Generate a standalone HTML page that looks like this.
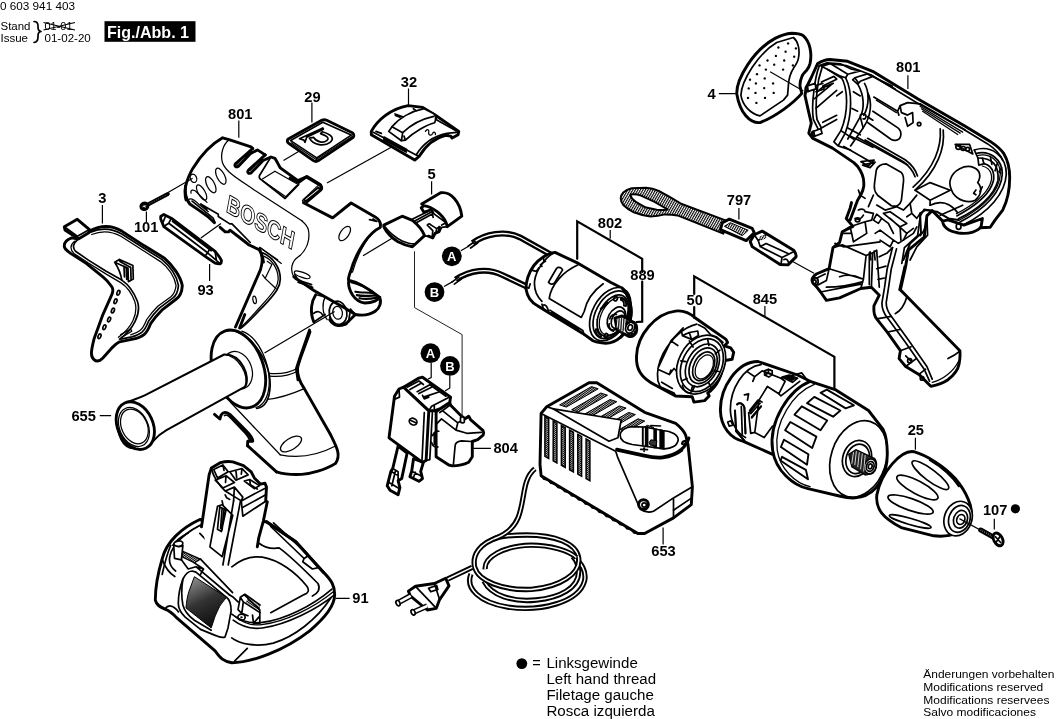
<!DOCTYPE html>
<html><head><meta charset="utf-8"><title>0 603 941 403</title>
<style>
html,body{margin:0;padding:0;background:#fff;}
body{width:1056px;height:719px;overflow:hidden;position:relative;}
svg{position:absolute;left:0;top:0;will-change:transform;}
text{font-family:"Liberation Sans",sans-serif;fill:#000;}
.lb{font-weight:bold;font-size:15.3px;}
.ft{font-size:14px;}
.fr{font-size:11px;}
.hd{font-size:9.5px;}
.k{fill:none;stroke:#000;stroke-width:1.7;stroke-linejoin:round;stroke-linecap:round;}
.t{fill:none;stroke:#000;stroke-width:1.25;stroke-linejoin:round;stroke-linecap:round;}
.h{fill:none;stroke:#000;stroke-width:2.9;stroke-linejoin:round;stroke-linecap:round;}
.w{fill:#fff;stroke:#000;stroke-width:1.7;stroke-linejoin:round;stroke-linecap:round;}
.wh{fill:#fff;stroke:#000;stroke-width:2.9;stroke-linejoin:round;stroke-linecap:round;}
.wt{fill:#fff;stroke:#000;stroke-width:1.25;stroke-linejoin:round;stroke-linecap:round;}
.b{fill:#000;stroke:none;}
.ld{fill:none;stroke:#000;stroke-width:1.2;}
</style></head><body>
<svg width="1056" height="719" viewBox="0 0 1056 719">
<defs>
<pattern id="hat" width="2.2" height="2.2" patternUnits="userSpaceOnUse" patternTransform="rotate(30)"><rect width="2.2" height="2.2" fill="#fff"/><rect width="1.1" height="2.2" fill="#000"/></pattern>
<pattern id="hat2" width="1.6" height="1.6" patternUnits="userSpaceOnUse" patternTransform="rotate(35)"><rect width="1.6" height="1.6" fill="#fff"/><rect width="1.6" height="1" fill="#000"/></pattern>
<linearGradient id="latchg" x1="0.3" y1="0" x2="0.7" y2="1"><stop offset="0" stop-color="#888"/><stop offset="0.45" stop-color="#333"/><stop offset="1" stop-color="#0a0a0a"/></linearGradient>
</defs>
<!--HEADER-->
<g id="header">
<text x="0" y="10" style="font-size:11.8px" textLength="75" lengthAdjust="spacingAndGlyphs">0 603 941 403</text>
<text x="0.5" y="29.5" style="font-size:11.7px" textLength="30" lengthAdjust="spacingAndGlyphs">Stand</text>
<text x="0.5" y="41.7" style="font-size:11.7px" textLength="27.5" lengthAdjust="spacingAndGlyphs">Issue</text>
<text x="44.5" y="29.5" style="font-size:11.7px" textLength="28" lengthAdjust="spacingAndGlyphs">01-01</text>
<text x="44.5" y="41.7" style="font-size:11.7px" textLength="46.3" lengthAdjust="spacingAndGlyphs">01-02-20</text>
<path class="ld" d="M43.5,22.5L75,30M43.5,30L75,22.5"/>
<path class="k" d="M34,21.5C37.5,21.5 38,23.5 38,26C38,29 38,31 41,31.5C38,32 38,34 38,37C38,40 37.5,42 34,42.5"/>
<rect x="104.5" y="21.2" width="91" height="20.6" fill="#000"/>
<text x="107" y="37.6" style="font-weight:bold;font-size:16.4px;fill:#fff" textLength="82" lengthAdjust="spacingAndGlyphs">Fig./Abb. 1</text>
</g>
<!--FOOTER-->
<g id="footer">
<circle cx="521.8" cy="663.6" r="5.4" class="b"/>
<text class="ft" x="532.3" y="667.9" textLength="8.5" lengthAdjust="spacingAndGlyphs">=</text>
<text class="ft" x="546.4" y="667.9" textLength="91.4" lengthAdjust="spacingAndGlyphs">Linksgewinde</text>
<text class="ft" x="546.4" y="684" textLength="109.7" lengthAdjust="spacingAndGlyphs">Left hand thread</text>
<text class="ft" x="546.4" y="700" textLength="107.4" lengthAdjust="spacingAndGlyphs">Filetage gauche</text>
<text class="ft" x="546.4" y="715.8" textLength="108.5" lengthAdjust="spacingAndGlyphs">Rosca izquierda</text>
<text class="fr" x="923.3" y="678.3" textLength="131" lengthAdjust="spacingAndGlyphs">Änderungen vorbehalten</text>
<text class="fr" x="923.3" y="690.9" textLength="120" lengthAdjust="spacingAndGlyphs">Modifications reserved</text>
<text class="fr" x="923.3" y="703.7" textLength="126.1" lengthAdjust="spacingAndGlyphs">Modifications reservees</text>
<text class="fr" x="923.3" y="716.3" textLength="112.6" lengthAdjust="spacingAndGlyphs">Salvo modificaciones</text>
</g>
<g id="housingL">
<path class="h" d="M 186.0,199.9 C 183.6,191.1 186.4,179.7 192.8,168.4 C 199.9,157.0 211.2,144.2 222.6,137.8 L 229.0,139.7 L 251.0,146.8 L 252.7,148.5"/>
<path class="h" d="M 252.7,148.5 L 235.7,163.5 C 234.0,165.5 235.7,167.8 238.2,166.4 L 250.6,153.6 L 257.4,149.9 L 265.2,154.9"/>
<path class="t" d="M 251.0,149.2 L 237.5,163.8 M 238.2,166.4 L 236.8,164.9"/>
<path class="h" d="M 265.2,154.9 L 248.5,170.1 C 246.8,172.0 248.5,174.3 251.0,172.9 L 263.1,160.5 L 270.9,157.0 L 274.9,158.4 C 278.0,163.0 278.7,165.5 280.3,167.8 L 297.9,180.6 L 306.4,176.9 L 320.6,185.4 C 322.0,187.1 322.0,188.8 320.6,190.2 L 307.1,201.7"/>
<path class="t" d="M 263.8,155.9 L 250.3,170.3"/>
<path class="t" d="M 229.0,139.7 C 223.3,144.2 219.8,154.1 222.6,163.0 C 226.2,172.6 239.7,180.0 253.9,189.7 L 302.2,220.9"/>
<ellipse class="t" cx="220.8" cy="176.2" rx="3.84" ry="8.81" transform="rotate(-27 220.8 176.2)"/>
<ellipse class="t" cx="210.8" cy="184.7" rx="3.84" ry="8.81" transform="rotate(-27 210.8 184.7)"/>
<ellipse class="t" cx="201.6" cy="192.5" rx="3.41" ry="8.52" transform="rotate(-30 201.6 192.5)"/>
<path class="t" d="M 191.1,193.2 C 189.9,190.4 193.5,188.2 197.0,192.5 L 207.0,202.4"/>
<path class="t" d="M 188.5,199.6 C 190.7,197.5 194.2,199.6 198.5,203.9 L 208.4,211.7"/>
<ellipse class="t" cx="193.5" cy="178.3" rx="3.12" ry="4.26" transform="rotate(-20 193.5 178.3)"/>
<path class="k" d="M 270.9,157.0 L 259.5,175.5 C 258.8,177.6 259.5,179.0 261.7,180.0 L 285.1,198.5 L 298.6,184.7"/>
<path class="t" d="M 274.9,171.2 L 262.4,179.0 M 274.9,171.2 L 298.6,184.7 M 263.1,180.9 L 285.8,196.8 L 296.5,185.7"/>
<path class="k" d="M 320.6,190.2 L 318.5,187.5 L 303.6,199.6 L 307.1,201.7"/>
<path class="h" d="M 290.0,178.1 L 298.5,182.5 L 307.0,176.4 L 319.8,184.2 C 321.5,185.6 321.5,187.8 320.1,189.5"/>
<path class="h" d="M 303.5,202.7 L 332.6,217.9 L 351.1,203.0 L 375.2,216.9 C 379.5,219.7 381.2,223.3 380.2,227.5 C 369.5,232.5 356.8,249.5 350.4,272.1"/>
<path class="t" d="M 320.1,189.5 L 304.2,202.0 M 317.7,185.9 L 302.5,200.5 L 303.5,202.7"/>
<path class="t" d="M 378.4,228.5 C 369.5,233.9 358.9,249.5 352.5,272.1"/>
<path class="k" d="M 369.5,219.7 L 376.9,221.4 L 373.1,219.0"/>
<ellipse class="t" cx="344.7" cy="233.5" rx="4.26" ry="8.24" transform="rotate(35 344.7 233.5)"/>
<path class="t" d="M 302.0,221.0 C 306.4,224.8 308.0,227.9 308.4,230.0 C 310.5,240.4 306.4,250.9 298.0,257.1 C 291.8,261.3 289.7,269.6 293.8,276.9"/>
<ellipse class="t" cx="302.2" cy="274.8" rx="8.34" ry="2.50" transform="rotate(20 302.2 274.8)"/>
<path class="k" d="M 295.5,279.2 L 311.6,284.6 M 298.0,282.1 L 312.6,287.4 M 294.9,274.8 L 298.0,280.1"/>
<path class="h" d="M 350.4,271.7 C 348.9,275.9 348.3,278.4 348.5,280.1 C 358.5,282.1 371.0,290.5 379.4,297.2 C 381.9,301.9 379.8,308.2 375.2,311.3 C 368.9,315.5 360.6,315.5 355.4,314.5 L 346.0,323.8 C 339.7,326.4 333.5,322.8 330.3,317.6"/>
<path class="h" d="M 348.5,282.1 C 348.5,290.5 354.3,301.9 364.8,303.0 C 373.1,303.0 378.3,299.9 379.8,297.2"/>
<path class="h" d="M 351.2,282.1 C 358.5,283.8 366.8,287.4 373.1,292.6 M 355.4,291.7 C 360.6,293.0 366.8,292.1 372.7,293.0 M 356.8,295.1 C 362.7,296.7 368.9,295.9 376.2,295.5 M 359.5,298.2 C 364.8,299.7 371.0,298.8 377.3,297.6" style="stroke-width:2.2"/>
<ellipse class="w" cx="338.1" cy="312.8" rx="8.76" ry="11.68" transform="rotate(-10 338.1 312.8)"/>
<ellipse class="t" cx="337.6" cy="312.8" rx="4.80" ry="6.47" transform="rotate(-10 337.6 312.8)"/>
<path class="k" d="M 350.6,309.2 L 355.4,314.5 M 350.6,309.2 L 348.5,321.8"/>
<path class="h" d="M 293.8,276.9 L 313.9,290.5 L 345.6,308.4 L 355.4,314.5"/>
<path class="h" d="M 329.7,319.7 C 333.5,325.9 339.7,327.0 346.0,323.8"/>
<path class="h" d="M 315.7,294.7 C 311.6,300.9 309.5,311.3 313.7,321.8"/>
<path class="t" d="M 325.1,297.2 C 322.0,303.0 322.0,313.4 327.2,319.7 M 315.7,294.7 L 325.1,297.2"/>
<path class="k" d="M 313.7,313.4 C 316.8,310.3 321.0,311.3 323.0,315.5 M 314.3,321.8 L 325.1,314.5"/>
<path class="h" d="M 259.4,249.2 C 262.6,255.0 262.6,263.4 260.5,269.6 L 235.5,327.0"/>
<path class="h" d="M 239.6,328.0 L 244.8,314.5"/>
<path class="t" d="M 260.5,247.7 L 281.3,263.4"/>
<path class="k" d="M 262.6,252.9 C 273.0,257.1 280.3,267.5 280.3,279.0 C 280.3,286.3 277.2,291.5 262.6,307.2 C 254.2,315.5 248.0,322.8 240.7,328.4"/>
<path class="t" d="M 263.6,256.1 C 271.9,259.2 278.2,268.6 278.2,279.0 C 278.2,285.3 275.1,290.5 261.5,305.5 C 253.2,314.5 247.5,321.3 241.7,326.4"/>
<path class="t" d="M 267.2,261.3 L 271.9,264.4 L 265.1,278.4 L 262.6,274.8 M 265.1,278.4 L 276.1,288.8"/>
<ellipse class="t" cx="254.6" cy="299.9" rx="1.67" ry="3.75" transform="rotate(-10 254.6 299.9)"/>
<path class="h" d="M 309.5,330.1 C 305.3,342.6 299.1,359.3 296.4,368.7 L 298.0,379.9"/>
<path class="h" d="M 310.0,331.8 C 304.3,348.3 298.6,361.1 297.5,368.2 C 297.2,374.4 300.1,382.4 304.3,388.6 L 329.9,433.5 C 337.0,447.7 341.2,454.8 335.6,463.4 C 325.6,469.9 310.0,473.9 301.5,474.4 C 290.1,475.0 283.0,473.9 276.5,471.9"/>
<path class="h" d="M 276.5,471.9 L 247.5,445.7"/>
<path class="t" d="M 268.8,373.3 C 278.8,374.4 290.1,372.4 297.5,368.2 M 269.7,376.1 C 280.2,377.3 291.5,374.4 298.1,371.0"/>
<path class="t" d="M 267.4,399.4 C 281.6,398.0 295.8,392.3 304.3,388.6"/>
<path class="t" d="M 280.2,454.8 C 301.5,459.1 321.4,453.4 335.0,446.3"/>
<ellipse class="t" cx="291.0" cy="444.0" rx="11.93" ry="5.68" transform="rotate(-32 291.0 444.0)"/>
<path class="t" d="M 230.5,402.3 L 280.2,454.8"/>
<path class="h" d="M 214.5,414.4 L 219.9,419.0 L 221.1,414.9 C 223.0,411.8 226.0,411.4 229.8,414.4 L 245.9,430.5 C 250.5,435.1 252.8,438.9 252.8,441.2 L 247.8,441.2 L 247.4,445.8"/>
<path class="k" d="M 223.0,413.4 C 225.3,411.8 228.3,413.4 231.4,416.7 L 247.1,432.8 C 250.2,436.3 251.4,438.9 251.4,440.9 M 224.5,415.5 C 226.3,414.3 228.5,415.5 230.6,418.0 L 245.6,433.6 C 248.4,436.9 249.6,439.4 249.9,441.2"/>
<text transform="matrix(0.866 0.5 -0.185 0.983 225.5 211.3)" x="0" y="0" textLength="77.5" lengthAdjust="spacingAndGlyphs" style="font-weight:bold;font-size:24.9px;fill:#fff;stroke:#000;stroke-width:1">BOSCH</text>
<path class="h" d="M 185.5,185.9 C 184.7,191.4 185.3,198.3 189.8,204.0 L 198.4,209.9 L 208.1,216.7 L 214.4,222.8"/>
<path class="k" d="M 192.1,201.1 L 213.2,218.2 L 214.9,222.4 M 201.2,204.5 L 204.1,207.4 L 206.9,209.9 M 200.7,204.0 L 218.3,214.2 L 218.3,216.5 L 229.8,223.9 L 232.0,223.9 L 250.3,242.5"/>
<path class="h" d="M 220.1,227.3 L 225.2,231.9 L 228.6,231.9 L 230.0,230.2 L 238.9,237.0 L 249.1,245.0 L 259.4,249.8 C 261.7,253.0 262.8,257.6 263.4,262.0"/>
<path class="t" d="M 259.4,247.3 L 277.7,259.8"/>
</g>
<g id="handle655">
<ellipse class="wh" cx="238.4" cy="369.0" rx="25.00" ry="40.34" transform="rotate(-20 238.4 369.0)"/>
<path class="t" d="M 241.8,331.2 C 258.9,336.9 271.6,365.3 268.8,388.1 C 267.4,399.4 261.7,406.5 256.0,407.4"/>
<path class="k" d="M 227.6,330.7 C 244.7,327.0 270.2,356.8 270.2,385.2 C 269.7,399.4 264.5,407.4 256.6,408.5"/>
<ellipse class="wt" cx="237.6" cy="370.2" rx="14.20" ry="19.32" transform="rotate(-20 237.6 370.2)"/>
<path class="w" d="M 224.2,354.5 L 145.2,395.2 C 136.7,399.4 131.0,400.0 125.9,402.8 C 116.8,409.4 115.4,427.8 121.1,439.2 C 126.8,450.6 139.5,452.0 152.3,442.0 C 155.2,438.6 158.0,434.9 166.5,430.1 L 245.2,386.6 C 250.9,376.7 241.8,354.0 224.2,354.5 Z" style="stroke-width:2"/>
<path class="t" d="M 224.2,354.5 C 239.0,356.8 248.9,373.9 245.2,386.6"/>
<ellipse class="wh" cx="135.3" cy="425.6" rx="17.61" ry="25.00" transform="rotate(-25 135.3 425.6)"/>
<ellipse class="t" cx="134.4" cy="426.4" rx="12.78" ry="18.18" transform="rotate(-25 134.4 426.4)"/>
<ellipse class="t" cx="133.9" cy="427.0" rx="14.20" ry="20.45" transform="rotate(-25 133.9 427.0)"/>
</g>
<g id="cover3">
<path class="wh" d="M 89.5,231.1 C 99.5,225.6 110.6,224.5 121.8,231.1 L 144.0,245.6 L 164.1,257.9 C 173.0,265.6 180.8,276.8 182.3,285.7 C 181.9,292.4 179.6,296.8 176.3,299.0 L 161.8,310.2 C 156.3,315.7 152.9,320.2 150.7,323.5 C 148.5,329.1 146.3,332.9 144.0,334.6 C 140.7,337.3 137.4,338.2 132.9,339.1 L 119.5,341.8 C 116.2,343.5 114.0,345.8 111.8,348.0 L 102.9,358.0 C 99.5,361.4 96.2,361.8 94.0,359.6 C 90.6,356.9 90.6,352.4 94.0,339.1 L 102.9,314.6 L 111.8,294.6 C 113.3,291.2 113.3,289.0 111.8,286.8 C 109.5,283.4 106.2,279.4 102.9,276.8 L 86.2,263.4 L 70.6,253.4 C 66.1,250.1 63.9,248.3 64.3,245.6 C 64.3,242.3 67.2,239.4 71.7,237.8 L 77.3,238.9"/>
<path class="wh" d="M 64.3,226.7 L 77.3,219.3 L 89.5,229.6 L 88.8,232.7 L 78.4,238.9 L 65.0,230.0 Z"/>
<path class="k" d="M 64.3,226.7 L 77.3,236.3 L 89.5,229.6 M 77.3,236.3 L 78.4,238.9"/>
<path class="k" d="M 77.3,240.0 C 72.8,243.4 72.4,247.8 75.5,251.2 L 88.4,260.1 L 106.2,271.2 L 121.8,280.1 C 128.4,284.6 134.0,292.4 137.4,301.3 C 139.6,307.9 138.5,314.6 135.1,321.3 C 131.8,328.0 126.2,334.6 119.5,339.1"/>
<path class="t" d="M 74.6,241.2 C 70.1,244.5 69.7,249.6 73.9,253.4 L 88.4,263.0 L 106.2,274.1 L 120.7,282.6 C 127.3,286.8 131.8,293.5 134.7,301.3 C 136.9,307.9 135.8,314.6 132.9,320.8 C 129.6,327.5 124.0,333.5 118.4,337.3"/>
<path class="k" d="M 90.6,232.3 C 100.6,227.8 110.6,227.8 121.8,234.0 L 144.0,248.3 L 161.8,259.4 C 170.7,266.8 177.0,276.8 178.5,285.7 C 177.9,291.2 176.3,295.7 173.0,297.9 L 159.6,307.9 C 154.0,313.5 150.7,317.9 148.5,321.3 C 146.3,326.9 144.0,330.6 141.8,332.4 C 138.5,335.1 135.1,336.0 131.8,336.9 L 120.7,339.1"/>
<path class="t" d="M 91.7,234.5 C 101.3,230.5 110.6,230.5 120.9,236.3 L 143.1,250.5 L 160.5,261.6 C 169.0,268.3 174.7,277.9 176.1,285.7 C 175.4,290.6 174.1,294.1 171.2,296.4 L 157.8,306.2 C 152.3,311.7 148.9,316.2 146.7,319.5 C 144.5,325.1 142.2,328.9 140.0,330.6 C 136.9,333.1 134.0,334.0 130.7,334.9"/>
<path class="k" d="M 114.7,262.3 L 119.5,259.4 L 132.9,265.6 L 133.3,279.0 L 128.4,281.7 L 128.0,268.3 Z M 119.5,259.4 L 120.0,261.6 L 130.7,267.4 M 114.7,262.3 C 118.4,267.9 120.7,273.4 121.8,280.1 M 124.0,266.1 L 124.4,276.8 M 126.2,267.4 L 126.7,279.4 M 130.7,267.4 L 131.1,279.9"/>
<ellipse class="k" cx="118.4" cy="292.8" rx="1.34" ry="2.45" transform="rotate(22 118.4 292.8)"/>
<ellipse class="k" cx="115.5" cy="301.3" rx="1.34" ry="2.45" transform="rotate(22 115.5 301.3)"/>
<ellipse class="k" cx="112.9" cy="310.6" rx="1.34" ry="2.45" transform="rotate(22 112.9 310.6)"/>
<ellipse class="k" cx="109.1" cy="319.5" rx="1.34" ry="2.45" transform="rotate(22 109.1 319.5)"/>
<ellipse class="k" cx="104.4" cy="327.3" rx="1.34" ry="2.45" transform="rotate(22 104.4 327.3)"/>
<ellipse class="k" cx="99.5" cy="336.2" rx="1.34" ry="2.45" transform="rotate(22 99.5 336.2)"/>
<path class="t" d="M 120.7,334.6 L 130.7,329.1 L 131.8,331.3 L 121.8,337.3"/>
</g>
<g id="screw101">
<path class="" d="M 147.5,204.8 L 167.8,194.0" style="fill:none;stroke:#000;stroke-width:4;stroke-linecap:round"/>
<path class="" d="M 149.0,204.0 L 167.3,194.3" style="fill:none;stroke:#fff;stroke-width:0.7;stroke-dasharray:0.5 1.6"/>
<ellipse class="b" cx="144.4" cy="206.3" rx="5.01" ry="4.76" transform="rotate(-25 144.4 206.3)"/>
<path class="" d="M 143.8,205.0 L 145.3,207.8 M 142.5,206.9 L 146.3,205.7" style="stroke:#fff;stroke-width:0.8;fill:none"/>
</g>
<g id="bit93">
<path class="wh" d="M 160.7,216.5 L 163.8,214.4 L 171.3,218.2 L 215.1,251.3 C 218.2,255.1 220.4,258.2 221.4,260.4 C 221.6,262.6 221.1,263.6 220.1,263.9 C 218.2,264.1 216.4,263.6 215.1,263.2 L 205.1,256.3 L 163.8,226.6 L 160.7,219.0 Z" style="stroke-width:2.8"/>
<path class="k" d="M 171.3,218.2 L 168.8,223.2 L 164.0,226.3 M 168.8,223.2 L 207.6,252.8 L 220.1,263.6 M 210.1,248.2 L 207.6,252.8 L 205.1,256.1 M 165.7,215.7 L 163.2,221.9 M 172.5,221.3 L 211.3,250.7 M 215.1,251.6 L 216.4,260.1"/>
</g>
<g id="p29">
<path class="wh" d="M 288.3,138.9 L 321.7,120.3 C 323.4,119.5 325.1,119.5 326.7,120.3 L 352.3,132.8 C 354.0,133.9 354.3,136.2 352.9,137.6 L 318.4,160.6 C 316.7,161.7 315.0,161.7 313.4,160.6 L 288.7,143.4 C 286.9,142.1 286.9,140.1 288.3,138.9 Z"/>
<path class="k" d="M 290.6,140.6 L 322.8,122.3 L 351.2,135.1 M 290.6,140.6 L 316.7,157.9 L 351.2,135.1 M 316.7,157.9 L 316.7,160.6"/>
<path class="t" d="M 291.1,142.8 L 316.2,159.5 L 351.7,136.7"/>
<path class="k" d="M 299.5,138.7 L 322.8,128.0 L 323.4,129.2 L 306.7,137.3 L 305.0,142.3 L 303.9,140.1 Z"/>
<path class="k" d="M 309.5,138.1 C 313.4,145.6 324.5,146.7 330.1,142.3 C 334.5,138.9 332.3,134.5 322.3,131.7 M 313.4,137.3 C 316.7,142.3 323.4,143.2 326.7,140.6 C 329.5,138.4 327.8,136.2 320.6,133.6 M 309.5,138.1 L 313.4,137.3 M 322.3,131.7 L 320.6,133.6"/>
</g>
<g id="p32">
<path class="wh" d="M 371.3,131.4 C 377.4,120.0 390.7,108.7 408.1,105.6 L 422.7,107.4 L 434.7,114.7 L 458.8,131.4 L 458.1,134.7 L 452.1,138.1 L 450.8,136.1 L 445.4,135.4 C 434.7,138.1 425.4,146.1 419.4,156.1 L 414.7,160.1 L 371.3,134.7 Z"/>
<path class="k" d="M 373.3,132.3 L 416.1,155.0 L 419.4,156.1 M 416.1,155.0 C 422.7,144.1 433.4,136.1 446.8,133.4 L 456.8,132.3 M 446.8,133.4 L 448.8,135.8 M 434.7,114.7 L 436.8,120.0 L 456.1,130.7"/>
<path class="k" d="M 384.0,137.1 L 406.7,149.4 M 383.8,138.5 L 406.5,150.7 M 383.5,139.8 L 406.2,152.1 M 376.0,131.4 L 381.4,133.4"/>
<path class="w" d="M 388.7,131.4 L 392.0,126.7 C 398.7,118.7 410.7,111.4 424.1,108.7 L 433.4,113.4 C 436.1,115.4 436.4,118.0 434.7,122.7 C 426.7,124.7 413.4,132.1 405.4,140.1 L 401.4,140.7 Z"/>
<path class="k" d="M 392.0,126.7 L 402.7,132.7 L 401.4,140.7 M 402.7,132.7 C 410.7,124.7 422.7,118.7 433.7,116.3 M 405.4,140.1 L 404.0,136.1 M 395.0,114.0 L 402.7,116.7 M 395.4,115.4 L 400.0,117.1 M 413.4,108.7 L 416.1,110.7"/>
<path class="t" d="M 425.4,131.4 C 427.4,128.1 429.4,130.1 428.7,132.7 C 428.3,135.4 431.4,136.1 432.7,133.4 C 433.4,131.4 436.1,132.1 435.4,134.7"/>
</g>
<g id="p5">
<path class="w" d="M 411.7,219.5 L 431.7,209.5 L 434.0,213.9 L 446.2,222.8 L 447.3,226.7 L 441.7,227.3 L 439.5,231.7 L 435.1,232.9 L 432.8,237.3 L 428.4,236.2 L 425.1,236.2 Z"/>
<path class="k" d="M 413.4,221.7 L 432.3,211.5 M 414.5,223.7 L 433.1,213.4 M 431.7,209.5 L 433.1,217.3 M 427.3,225.1 C 428.4,223.4 430.1,223.7 431.2,225.1 L 436.7,228.6 L 439.0,227.3 M 427.3,225.1 L 432.8,230.6 L 432.3,236.2 M 436.7,228.6 L 436.2,231.7"/>
<path class="h" d="M 439.5,227.3 L 439.0,231.7 L 435.1,233.4 L 432.8,237.9 L 428.4,236.2"/>
<path class="wh" d="M 421.7,203.9 L 440.6,192.8 C 450.6,191.1 460.1,201.7 461.8,216.2 L 447.3,226.7 L 446.2,222.8 C 442.9,215.1 432.8,206.7 423.9,205.6 L 421.2,207.8 L 423.9,212.3 L 431.7,209.5"/>
<path class="k" d="M 423.9,205.6 L 421.7,203.9 M 446.2,222.8 L 441.7,225.1"/>
<path class="wh" d="M 383.8,225.1 L 402.2,216.2 L 412.4,220.4 C 417.8,224.7 422.8,231.1 424.5,235.6 L 412.4,246.7 C 407.9,246.0 402.2,243.9 398.0,241.7 C 392.3,238.2 386.6,232.5 383.8,226.8 Z"/>
<path class="k" d="M 384.9,226.8 C 389.4,232.5 395.1,237.5 402.2,241.0 C 406.5,242.7 410.0,243.9 413.6,243.9"/>
</g>
<g id="bat91">
<path class="wh" d="M 199.8,519.5 C 181.7,527.9 166.4,541.8 162.3,558.5 C 158.1,572.4 155.3,589.1 155.3,600.2 C 156.7,605.8 160.9,607.1 165.0,609.1 C 170.6,611.3 173.4,614.1 176.2,617.4 L 195.6,634.1 L 215.1,650.8 C 220.7,658.6 223.4,661.4 231.8,662.8 C 251.3,662.8 284.6,650.3 309.7,630.8 C 326.3,616.9 334.7,605.8 334.7,594.6 C 334.7,586.3 331.9,580.7 323.6,572.4 L 295.8,541.8 L 266.5,521.8 Z"/>
<path class="k" d="M 205.4,522.9 C 187.3,530.7 172.8,543.2 170.0,555.7 C 168.6,561.3 170.0,566.8 175.6,571.0 M 231.8,614.1 C 240.1,621.0 251.3,623.8 262.4,622.4 C 284.6,619.7 312.4,605.8 331.9,589.1"/>
<path class="k" d="M 162.3,559.9 C 165.0,566.8 167.8,572.4 174.8,576.5 M 233.2,620.2 C 241.5,626.6 251.3,629.4 262.4,628.0 C 287.4,624.7 318.0,608.5 334.7,594.6"/>
<path class="t" d="M 236.0,616.9 C 243.5,623.0 251.8,625.8 261.8,624.7 C 286.0,621.9 314.7,607.1 333.3,591.8"/>
<path class="h" d="M 266.5,521.8 L 295.8,541.8 L 323.6,572.4"/>
<path class="k" d="M 270.7,526.5 L 304.1,558.5 L 302.7,561.8 L 312.4,569.0 L 319.4,567.4 M 304.1,558.5 L 307.4,556.2 M 273.5,522.9 L 306.9,553.5"/>
<path class="k" d="M 231.8,566.8 C 240.1,559.9 251.3,555.7 262.4,557.1 C 279.1,559.9 295.8,572.4 306.9,586.3 C 309.7,590.5 308.3,593.2 304.1,594.6 L 270.7,612.7"/>
<path class="k" d="M 259.0,543.2 C 265.2,547.9 270.7,549.3 279.1,547.9 C 290.2,555.7 306.9,572.4 318.0,583.5 C 320.8,589.1 318.0,593.2 312.4,596.0"/>
<path class="k" d="M 199.8,533.4 L 208.1,541.8"/>
<path class="" d="M 211.4,468.0 L 220.6,462.6 C 225.2,461.4 229.8,461.4 232.8,461.9 L 243.5,465.7 L 251.2,471.8 L 254.3,477.9 L 260.4,484.1 L 265.0,483.3 L 266.5,487.1 L 265.7,500.9 L 267.3,501.7 L 263.4,520.8 L 258.8,537.6 L 257.3,546.8 L 228.2,568.2 L 208.4,552.9 L 201.5,526.9 L 205.3,500.9 L 209.1,474.9 Z" style="fill:#fff;stroke:none"/>
<path class="h" d="M 201.5,526.9 L 205.3,500.9 L 209.1,474.9 L 211.4,468.0 L 220.6,462.6 C 225.2,461.4 229.8,461.4 232.8,461.9 L 243.5,465.7 L 251.2,471.8 L 254.3,477.9 L 260.4,484.1 L 265.0,483.3 L 266.5,487.1 L 265.7,500.9 L 267.3,501.7 L 263.4,520.8 L 258.8,537.6 L 257.3,546.8"/>
<path class="k" d="M 211.4,468.0 C 212.9,476.4 219.1,485.6 225.2,491.0 L 241.3,500.9 L 265.7,487.9 M 241.3,500.9 L 242.8,516.2 L 265.7,501.2 M 242.0,507.8 L 265.7,494.8 M 225.2,491.0 L 234.4,487.1 L 242.8,497.1 L 241.3,500.9 M 234.4,487.1 L 233.6,500.9"/>
<path class="k" d="M 213.7,469.5 L 222.9,464.9 L 228.2,471.8 L 217.5,477.9 Z M 222.9,464.9 L 224.0,470.3 M 229.8,471.8 L 242.0,468.5 L 248.1,474.9 L 235.9,480.2 Z M 242.0,468.5 L 241.3,474.1 M 235.9,470.3 L 236.7,477.9 M 215.2,480.2 L 226.0,475.7 L 234.4,482.5 L 222.9,487.9 Z M 226.0,475.7 L 225.5,482.5 M 244.3,481.0 L 249.7,479.5 L 259.6,485.6 L 254.3,488.7 Z M 249.7,479.5 L 250.4,484.8 L 257.3,489.0"/>
<path class="k" d="M 217.5,506.3 L 209.9,546.8 L 222.1,556.7 L 232.8,515.4 M 217.5,506.3 L 222.1,504.7 L 232.8,515.4 M 219.8,507.0 L 217.5,529.2 L 221.4,531.5 L 226.0,510.1 Z M 222.1,508.5 L 220.6,528.4 M 224.0,509.8 L 222.1,530.0 M 233.6,500.9 L 222.9,565.0 M 240.5,500.9 L 228.2,565.0"/>
<path class="k" d="M 225.2,494.8 L 226.7,497.8 L 229.8,499.4 M 222.1,500.9 L 222.9,504.7"/>
<path class="k" d="M 170.7,545.3 C 167.6,552.9 164.5,563.7 162.2,574.4 M 188.2,533.1 C 182.1,536.1 176.0,540.7 172.9,545.3"/>
<ellipse class="w" cx="178.3" cy="543.8" rx="4.59" ry="2.75" transform="rotate(-10 178.3 543.8)"/>
<path class="w" d="M 173.7,544.5 L 174.5,558.3 L 181.4,559.8 L 182.9,545.3 C 181.4,547.1 176.0,547.1 173.7,544.5 Z"/>
<path class="" d="M 182.9,551.4 L 200.5,559.1 L 194.4,562.9 L 182.1,556.8 Z" style="fill:url(#hat2);stroke:#000;stroke-width:1.2"/>
<path class="k" d="M 181.4,559.8 L 188.2,569.0 L 195.9,566.7 L 203.5,569.0 L 200.5,574.4 M 194.4,562.9 L 203.5,569.0 M 200.5,559.1 L 232.6,592.7 M 195.9,566.7 L 229.6,595.0"/>
<path class="w" d="M 182.9,579.0 C 185.2,574.4 188.2,571.3 192.1,571.0 L 195.9,572.1 L 226.5,597.3 C 229.6,599.6 231.1,605.0 231.1,611.1 L 228.0,627.9 L 225.0,637.1 C 221.9,637.9 218.8,637.1 215.8,635.6 L 200.5,629.4 L 185.2,617.2 C 180.6,612.6 178.3,608.0 178.3,603.4 C 178.3,594.3 180.6,585.1 182.9,579.0 Z"/>
<path class="" d="M 194.4,576.7 L 226.5,597.3 C 222.7,601.9 220.4,605.0 219.6,606.5 C 216.6,612.6 215.0,616.4 214.3,618.7 L 211.2,627.9 L 186.0,608.0 C 186.4,601.9 187.5,595.8 189.0,591.2 Z" style="fill:url(#latchg);stroke:#000;stroke-width:1"/>
<path class="k" d="M 182.9,579.0 C 181.4,588.1 181.4,597.3 182.9,605.0 C 184.4,611.1 188.2,615.7 194.4,620.3 L 211.2,630.2"/>
<path class="k" d="M 229.6,595.0 L 233.4,597.3 L 238.0,601.9 M 240.3,597.3 L 244.9,594.3 L 260.0,605.0 M 240.3,597.3 L 238.0,609.6 L 241.8,613.4 L 243.3,601.9 Z M 243.3,601.9 L 260.0,612.6 M 241.8,613.4 L 247.9,615.7"/>
<path class="" d="M 245.6,601.9 L 260.0,611.1 L 260.0,606.5 L 247.9,598.8 Z" style="fill:url(#hat2);stroke:none"/>
<ellipse class="k" cx="241.5" cy="617.2" rx="3.67" ry="3.06"/>
<ellipse class="b" cx="241.5" cy="617.2" rx="1.22" ry="1.07"/>
<path class="k" d="M 258.8,617.1 L 253.5,623.3 L 252.5,615.0 M 253.5,623.3 L 259.8,623.3 L 259.8,609.8 L 244.2,594.6"/>
<path class="k" d="M 165.0,608.8 C 168.1,604.6 173.3,604.6 178.5,611.9 M 234.8,660.8 L 247.3,648.3 M 231.7,637.9 C 240.0,644.2 256.7,647.3 273.3,643.1 C 294.2,636.9 317.1,619.2 330.6,598.3"/>
</g>
<g id="sw804">
<path class="wh" d="M 398.1,446.0 L 392.7,468.6 L 390.9,471.3 L 387.2,485.8 L 390.0,490.3 L 398.1,494.8 L 399.9,487.6 L 398.1,480.7 L 401.7,478.6 L 407.1,453.2 Z"/>
<path class="k" d="M 392.7,468.6 L 398.1,471.7 L 398.1,480.7 M 390.9,471.3 L 397.2,474.9 M 388.7,482.2 L 399.0,488.5 M 395.4,471.3 L 391.8,485.8"/>
<path class="wh" d="M 413.5,458.7 L 411.7,471.3 L 409.9,476.7 L 418.9,481.3 L 422.5,478.6 L 420.7,471.3 L 423.4,462.3 Z"/>
<path class="k" d="M 411.7,471.3 L 420.7,475.8 M 415.3,472.2 L 413.5,477.6"/>
<path class="wh" d="M 436.1,412.0 L 439.7,408.9 L 449.7,402.6 L 450.9,405.5 L 459.6,414.3 L 465.0,418.8 L 468.7,416.3 L 470.8,419.9 L 483.1,430.6 C 484.0,432.4 484.0,433.7 483.1,435.1 L 477.7,439.7 L 472.3,441.5 L 472.3,456.8 L 468.7,462.3 C 463.2,465.0 457.8,465.9 452.4,465.9 L 448.8,465.0 L 436.1,456.8 Z"/>
<path class="k" d="M 439.7,412.5 L 442.4,410.7 L 457.8,422.8 L 456.0,430.1 L 466.8,433.3 L 481.3,432.4 M 442.4,410.7 L 449.7,405.3 M 457.8,422.8 L 465.0,418.8 M 455.1,446.0 C 455.1,442.4 457.8,441.5 461.4,440.9 L 471.4,441.5 M 455.1,446.0 L 453.3,465.5 M 436.1,424.3 L 441.5,418.8 L 456.0,430.1"/>
<path class="k" d="M 432.5,435.5 C 433.9,431.9 437.0,430.6 438.8,431.2 M 431.6,442.4 C 432.5,446.0 435.2,447.4 437.9,446.9 M 434.3,433.3 L 434.3,444.2"/>
<path class="w" d="M 460.5,417.4 L 460.5,421.7 C 461.4,423.2 463.6,423.2 464.3,422.1 L 464.3,417.9 C 463.2,416.7 461.4,416.7 460.5,417.4 Z"/>
<path class="wh" d="M 403.5,387.2 L 418.9,378.1 L 422.5,377.2 L 450.6,397.1 L 449.7,402.6 L 439.7,408.9 L 434.3,410.9 L 428.8,410.9 Z"/>
<path class="k" d="M 407.1,387.2 L 418.9,380.9 L 423.4,384.5 M 409.9,389.5 L 420.7,383.6 M 417.1,391.7 L 429.8,384.8 L 439.7,391.7 M 418.9,393.5 L 431.6,387.2 M 423.4,397.1 L 439.7,391.7 L 446.0,396.2 M 422.5,395.3 L 424.3,398.9 L 428.8,397.1 M 428.8,410.9 L 431.6,406.2 L 449.7,397.1 M 434.3,410.9 L 434.3,406.2"/>
<path class="wh" d="M 394.5,396.2 L 399.0,389.0 L 403.5,387.2 L 428.8,410.9 L 426.1,460.5 L 422.5,462.3 L 389.0,437.8 Z"/>
<path class="k" d="M 428.8,410.9 L 432.5,410.2 L 429.8,459.6 L 426.1,460.5 M 399.0,389.0 L 399.5,397.1 L 395.4,398.9 M 424.3,412.5 L 422.0,460.5"/>
<ellipse class="k" cx="413.1" cy="421.6" rx="3.98" ry="3.26" transform="rotate(25 413.1 421.6)"/>
<path class="k" d="M 410.4,420.3 L 415.8,422.8"/>
</g>
<g id="motor802">
<path class="" d="M 472.6,243.0 C 485.1,233.8 505.1,230.0 520.1,237.5 L 552.6,255.6" style="fill:none;stroke:#000;stroke-width:6;stroke-linecap:butt"/>
<path class="" d="M 472.6,243.0 C 485.1,233.8 505.1,230.0 520.1,237.5 L 552.6,255.6" style="fill:none;stroke:#fff;stroke-width:1.3;stroke-linecap:butt"/>
<path class="" d="M 455.6,279.6 C 470.1,270.1 487.6,267.6 502.6,275.1 L 531.4,288.8" style="fill:none;stroke:#000;stroke-width:6;stroke-linecap:butt"/>
<path class="" d="M 455.6,279.6 C 470.1,270.1 487.6,267.6 502.6,275.1 L 531.4,288.8" style="fill:none;stroke:#fff;stroke-width:1.3;stroke-linecap:butt"/>
<path class="k" d="M 468.1,246.3 L 475.1,241.3 M 470.6,248.0 L 477.6,243.0 M 451.8,282.1 L 458.8,277.1 M 454.3,284.1 L 461.3,279.1"/>
<path class="t" d="M 461.3,250.5 L 468.1,246.5 M 444.5,286.3 L 451.8,282.1"/>
<path class="wh" d="M 555.0,252.4 L 578.4,263.4 L 610.5,282.3 L 622.2,288.2 C 627.3,293.3 632.4,304.2 630.9,315.9 C 630.2,324.7 626.6,332.0 620.7,337.1 C 614.9,342.2 607.6,343.9 601.8,342.9 C 597.4,342.2 594.5,341.5 593.0,340.7 L 582.8,333.4 L 549.2,313.0 L 537.5,305.7 C 531.7,302.8 527.3,296.9 526.1,289.6 C 525.5,282.3 528.8,272.1 533.9,265.5 C 539.0,259.0 547.7,253.1 555.0,252.4 Z"/>
<ellipse class="w" cx="610.2" cy="314.2" rx="17.81" ry="28.61" transform="rotate(28 610.2 314.2)"/>
<path class="h" d="M 622.2,288.2 C 627.3,293.3 632.4,304.2 630.9,315.9 C 630.2,324.7 626.6,332.0 620.7,337.1" style="stroke-width:3"/>
<ellipse class="k" cx="611.4" cy="314.7" rx="15.77" ry="25.69" transform="rotate(28 611.4 314.7)"/>
<ellipse class="k" cx="612.8" cy="315.6" rx="13.43" ry="22.19" transform="rotate(28 612.8 315.6)"/>
<ellipse class="t" cx="613.7" cy="316.2" rx="12.26" ry="20.44" transform="rotate(28 613.7 316.2)"/>
<ellipse class="w" cx="616.4" cy="318.5" rx="8.18" ry="12.26" transform="rotate(28 616.4 318.5)"/>
<ellipse class="k" cx="618.1" cy="319.7" rx="6.13" ry="9.34" transform="rotate(28 618.1 319.7)"/>
<path class="" d="M 599.6,308.6 L 607.6,301.3 L 609.1,303.1 L 601.0,310.7 Z" style="fill:#000"/>
<path class="k" d="M 620.7,298.4 C 623.9,297.7 626.9,301.3 626.0,306.0 L 623.9,305.7 C 624.5,302.5 623.1,300.1 621.0,300.1 Z M 595.9,329.1 C 595.2,333.4 597.4,336.6 601.2,336.6 L 600.9,334.6 C 598.8,334.6 597.4,332.3 597.8,329.3 Z" style="stroke-width:1.8"/>
<ellipse class="k" cx="615.6" cy="298.7" rx="1.75" ry="2.19" transform="rotate(28 615.6 298.7)"/>
<ellipse class="k" cx="606.1" cy="335.6" rx="1.75" ry="2.19" transform="rotate(28 606.1 335.6)"/>
<ellipse class="b" cx="597.1" cy="319.6" rx="0.73" ry="0.88"/>
<path class="wh" d="M 614.9,318.1 L 622.2,315.9 L 633.9,322.5 C 636.8,324.7 637.5,329.1 636.1,332.7 C 634.6,335.6 631.7,337.1 628.8,336.4 L 617.1,329.8 Z"/>
<path class="" d="M 616.4,319.6 L 622.2,317.1 L 628.8,321.0 L 625.8,327.6 L 622.2,333.4 L 617.5,329.3 Z" style="fill:#222"/>
<path class="" d="M 618.1,318.8 L 617.1,327.6 M 620.4,318.0 L 619.6,329.3 M 622.8,318.0 L 621.9,331.1 M 625.1,319.1 L 624.2,332.3" style="stroke:#fff;stroke-width:1;fill:none"/>
<ellipse class="w" cx="630.2" cy="327.6" rx="4.38" ry="5.84" transform="rotate(25 630.2 327.6)"/>
<ellipse class="k" cx="630.2" cy="327.6" rx="2.19" ry="2.92" transform="rotate(25 630.2 327.6)"/>
<path class="k" d="M 626.3,323.9 L 627.3,321.8 L 629.2,322.9 L 630.7,321.2 L 632.4,322.9 L 634.2,322.0 L 634.7,324.7 L 636.5,325.4 L 635.6,327.9 L 636.8,330.2 L 634.7,331.4 L 634.2,334.0 L 631.8,333.7 L 630.4,335.8 L 628.6,334.0 L 626.6,334.6"/>
<path class="k" d="M 609.8,318.8 C 610.5,315.9 613.4,313.7 616.4,314.5 M 609.1,323.9 C 608.3,327.6 610.5,330.5 613.4,331.2"/>
<path class="k" d="M 577.7,265.1 C 563.8,271.4 551.4,283.8 549.2,298.4 L 581.3,317.4 L 584.2,311.5 C 586.4,301.3 593.0,291.1 603.2,283.8"/>
<path class="k" d="M 548.5,282.3 L 556.5,268.5 C 557.7,267.0 560.1,267.0 561.6,268.5 L 562.6,269.9 L 554.3,283.1 C 552.8,284.5 549.9,284.5 548.5,282.3 Z"/>
<path class="k" d="M 543.4,257.5 L 544.1,261.9 L 540.4,264.8 L 541.9,266.3 M 539.0,267.7 L 536.1,271.4 L 530.9,269.9 M 530.2,283.8 L 528.8,288.2 L 526.6,287.4 M 544.1,261.9 L 545.5,261.2"/>
<path class="k" d="M 555.0,252.4 C 546.3,256.1 536.1,269.2 534.6,280.9 C 533.9,288.2 536.1,295.5 541.9,301.3"/>
<path class="k" d="M 541.9,304.2 L 543.4,308.6 L 549.2,313.0 M 549.9,310.1 L 582.8,330.5 L 584.2,334.9 M 551.4,313.0 L 578.4,329.8 M 543.4,305.0 C 545.5,304.2 547.7,307.2 548.5,311.5"/>
</g>
<g id="pad4">
<path class="wh" d="M 736.7,93.4 C 736.7,78.4 753.4,50.0 775.1,38.4 C 781.7,35.0 786.7,33.7 791.7,33.3 C 796.7,33.3 800.9,34.2 803.4,35.8 C 810.1,41.7 812.1,53.4 810.1,63.4 C 809.3,66.7 808.1,68.7 806.8,70.1 C 804.3,72.6 802.6,74.2 801.8,76.7 C 800.4,80.1 799.7,83.4 800.1,86.7 L 801.8,93.4 C 793.4,103.4 775.1,116.8 760.0,122.6 C 750.0,123.4 740.0,113.4 736.7,93.4 Z"/>
<path class="k" d="M 740.9,95.1 C 741.7,80.1 758.4,53.4 776.7,42.5 L 793.4,37.5 C 798.4,41.7 800.1,50.0 798.4,58.4 C 797.6,62.5 795.1,65.9 793.4,68.4 C 790.1,73.4 788.7,80.1 788.4,85.1 L 787.6,95.1 L 783.4,100.1 L 760.0,115.9 C 750.0,113.4 742.5,105.1 740.9,95.1 Z"/>
<ellipse class="b" cx="788.1" cy="43.4" rx="1.17" ry="1.17"/>
<ellipse class="b" cx="778.4" cy="47.5" rx="1.17" ry="1.17"/>
<ellipse class="b" cx="795.9" cy="48.4" rx="1.17" ry="1.17"/>
<ellipse class="b" cx="785.6" cy="51.7" rx="1.17" ry="1.17"/>
<ellipse class="b" cx="775.9" cy="55.9" rx="1.17" ry="1.17"/>
<ellipse class="b" cx="794.2" cy="56.7" rx="1.17" ry="1.17"/>
<ellipse class="b" cx="767.5" cy="60.5" rx="1.17" ry="1.17"/>
<ellipse class="b" cx="784.2" cy="60.5" rx="1.17" ry="1.17"/>
<ellipse class="b" cx="759.5" cy="65.4" rx="1.17" ry="1.17"/>
<ellipse class="b" cx="774.2" cy="64.7" rx="1.17" ry="1.17"/>
<ellipse class="b" cx="792.9" cy="65.4" rx="1.17" ry="1.17"/>
<ellipse class="b" cx="765.9" cy="69.6" rx="1.17" ry="1.17"/>
<ellipse class="b" cx="783.1" cy="69.6" rx="1.17" ry="1.17"/>
<ellipse class="b" cx="757.0" cy="74.2" rx="1.17" ry="1.17"/>
<ellipse class="b" cx="764.7" cy="78.4" rx="1.17" ry="1.17"/>
<ellipse class="b" cx="750.0" cy="79.7" rx="1.17" ry="1.17"/>
<ellipse class="b" cx="773.1" cy="83.4" rx="1.17" ry="1.17"/>
<ellipse class="b" cx="755.9" cy="83.4" rx="1.17" ry="1.17"/>
<ellipse class="b" cx="764.2" cy="88.1" rx="1.17" ry="1.17"/>
<ellipse class="b" cx="748.7" cy="88.4" rx="1.17" ry="1.17"/>
<ellipse class="b" cx="755.5" cy="92.9" rx="1.17" ry="1.17"/>
<ellipse class="b" cx="773.7" cy="92.9" rx="1.17" ry="1.17"/>
<ellipse class="b" cx="748.0" cy="97.9" rx="1.17" ry="1.17"/>
<ellipse class="b" cx="765.0" cy="97.9" rx="1.17" ry="1.17"/>
<ellipse class="b" cx="756.4" cy="102.9" rx="1.17" ry="1.17"/>
<path class="ld" d="M 770.1,71.7 L 803.4,90.9"/>
</g>
<g id="housingR">
<path class="" d="M 850.2,207.9 L 846.3,218.5 L 852.9,226.4 L 842.3,231.7 L 839.6,242.3 L 833.0,247.6 L 829.1,268.7 L 816.4,274.0 C 812.7,276.7 811.1,279.8 812.7,282.5 L 816.4,286.7 L 820.6,292.0 L 826.4,300.4 L 839.6,297.8 L 860.8,288.5 L 871.4,287.2 L 879.3,295.2 L 874.0,305.7 C 873.5,311.0 874.5,316.3 876.7,318.9 L 887.2,332.2 L 900.4,350.7 L 899.1,358.6 L 905.7,366.5 L 918.9,374.4 L 930.8,386.3 C 937.4,385.0 944.1,382.4 948.0,379.7 C 954.6,374.4 958.1,369.2 959.1,363.9 C 960.2,358.6 960.2,354.6 959.9,350.7 L 905.7,295.2 L 900.4,289.9 L 905.7,266.1 L 908.4,250.2 L 924.2,237.0 L 926.9,215.9 L 932.2,210.6 L 942.7,221.1 L 948.0,231.7 L 963.9,234.4 L 979.7,226.4 L 982.4,215.9 L 969.2,194.7 L 852.9,194.7 Z" style="fill:#fff;stroke:none"/>
<path class="" d="M 817.5,63.8 C 822.5,60.5 826.3,59.5 830.0,59.5 L 847.6,61.3 L 872.6,71.3 L 917.6,98.8 L 965.2,126.3 L 990.2,141.4 C 997.7,146.4 1001.5,150.1 1004.0,153.9 C 1007.7,160.1 1009.7,167.6 1009.7,177.6 C 1009.7,190.2 1006.5,202.7 1002.7,210.2 L 995.2,219.9 L 990.2,230.2 L 965.2,235.2 L 930.1,219.9 L 907.6,212.7 L 872.6,215.2 L 850.1,219.9 L 857.6,200.2 C 862.6,192.7 864.6,187.7 863.8,182.6 C 863.8,176.4 861.3,171.4 857.6,166.4 L 853.8,162.6 L 832.5,148.1 L 812.5,138.1 L 808.8,133.1 L 811.3,123.1 L 808.8,112.6 L 805.0,95.6 L 806.3,87.5 L 811.3,77.5 Z" style="fill:#fff;stroke:none"/>
<path class="h" d="M 980.2,227.7 L 990.2,227.2 L 995.2,219.9 L 1002.7,210.2 C 1006.5,202.7 1009.7,190.2 1009.7,177.6 C 1009.7,167.6 1007.7,160.1 1004.0,153.9 C 1001.5,150.1 997.7,146.4 990.2,141.4 L 965.2,126.3 L 917.6,98.8 L 872.6,71.3 L 847.6,61.3 L 830.0,59.5 C 826.3,59.5 822.5,60.5 817.5,63.8 L 811.3,77.5 L 806.3,87.5 L 805.0,95.6 L 808.8,112.6 L 811.3,123.1 L 808.8,133.1 L 812.5,138.1 L 832.5,148.1 L 853.8,162.6 L 857.6,166.4 C 861.3,171.4 863.8,176.4 863.8,182.6 C 864.6,187.7 862.6,192.7 857.6,200.2 L 850.1,219.9"/>
<path class="k" d="M 822.5,66.3 L 830.0,63.8 L 846.3,65.5 L 871.3,75.0 L 916.4,102.6 L 962.7,128.8 L 987.7,143.9 C 995.2,148.9 1000.2,153.9 1002.7,160.1"/>
<path class="k" d="M 873.8,97.1 L 897.6,111.3 L 900.1,105.6 L 907.6,102.6 L 920.1,103.8 L 965.2,130.1 M 897.6,111.3 L 898.9,115.1 M 900.1,105.6 L 901.4,112.6 L 907.6,115.1 L 912.6,112.6 L 913.1,122.6 L 907.6,126.3 L 905.1,117.6"/>
<path class="t" d="M 876.3,100.1 L 896.4,112.6 M 920.1,106.3 L 962.7,132.1 M 921.4,108.8 L 960.2,133.1 M 922.6,111.3 L 957.7,134.6"/>
<ellipse class="k" cx="919.1" cy="124.1" rx="1.75" ry="1.75"/>
<path class="k" d="M 819.3,65.6 C 815.9,75.0 814.5,84.8 813.8,91.7 C 812.4,102.8 812.0,111.2 813.4,119.5 L 818.9,130.6 M 822.1,67.4 C 818.9,76.4 817.5,84.8 817.0,91.7 C 815.9,102.8 815.6,111.2 817.0,119.5 L 821.4,127.9"/>
<path class="k" d="M 819.3,65.6 L 827.0,62.8 L 840.9,63.9 L 850.6,68.8 M 820.0,65.3 L 829.8,63.2 L 847.8,74.3 L 845.7,77.8 L 840.9,76.4 L 824.9,68.1 Z M 829.8,63.2 L 840.9,63.9 M 847.8,74.3 L 860.3,70.9 L 850.6,68.8"/>
<path class="k" d="M 852.7,79.9 L 854.8,77.8 L 867.3,73.9 L 872.9,76.4 L 860.3,81.3 L 857.6,84.1 Z M 854.8,77.8 L 857.8,82.0 M 867.3,73.9 L 892.3,86.1 M 872.9,76.4 L 895.1,88.9"/>
<path class="k" d="M 814.5,98.7 L 831.1,84.8 M 815.9,108.4 L 836.7,90.3 M 817.2,91.7 L 824.9,85.5 M 822.8,122.3 L 836.7,115.3 M 821.4,82.0 L 833.9,76.4 L 836.7,79.2 L 822.8,86.1 M 823.5,87.5 L 833.2,83.4 M 821.4,127.9 L 836.7,119.5"/>
<path class="k" d="M 815.9,86.1 L 817.2,91.7 M 815.9,85.5 L 822.8,83.4 M 815.9,91.7 L 824.2,88.9"/>
<ellipse class="w" cx="807.5" cy="88.7" rx="2.09" ry="2.92"/>
<ellipse class="k" cx="807.0" cy="88.9" rx="1.11" ry="1.53"/>
<path class="w" d="M 807.5,85.9 L 815.2,83.4 L 815.9,88.9 L 808.2,91.4 Z"/>
<ellipse class="w" cx="813.8" cy="133.7" rx="2.09" ry="2.64"/>
<ellipse class="k" cx="813.1" cy="134.0" rx="1.11" ry="1.39"/>
<path class="w" d="M 813.8,131.2 L 820.7,128.6 L 822.1,133.4 L 814.7,136.2 Z"/>
<path class="k" d="M 840.9,76.4 C 848.5,88.9 848.5,112.6 840.9,130.6 L 833.9,141.8 M 845.7,77.8 C 852.7,91.7 852.0,115.3 845.1,133.4 L 838.1,145.9 M 833.9,141.8 L 838.1,145.9 L 850.6,150.0"/>
<path class="k" d="M 864.5,83.4 C 869.4,91.7 869.4,105.6 863.8,115.3 M 867.3,91.7 C 872.9,102.8 870.8,116.7 863.1,127.9 L 850.6,145.9 M 857.8,84.1 C 864.5,95.9 864.5,108.4 860.3,116.7 L 847.8,139.0"/>
<path class="k" d="M 860.3,115.3 C 861.7,113.3 864.5,113.3 865.9,115.3 C 866.6,118.1 864.5,119.5 863.1,118.8 M 860.3,116.7 L 863.1,127.9"/>
<path class="k" d="M 827.7,69.5 L 840.9,77.8 M 836.7,95.9 L 842.3,91.7 M 853.4,91.7 L 860.3,95.9 M 852.0,108.4 L 857.6,111.2 M 847.8,127.9 L 860.3,134.8 M 850.6,136.2 L 872.9,147.3 M 840.9,130.6 L 853.4,139.0"/>
<path class="k" d="M 872.9,111.2 L 897.9,127.9 C 902.8,132.0 901.4,139.7 895.8,140.4 C 893.7,140.7 892.3,140.1 890.9,139.3 L 867.3,122.3 M 867.3,116.7 L 872.9,120.2"/>
<path class="k" d="M 843.8,146.4 L 872.6,163.1 M 857.6,137.6 L 907.6,165.1"/>
<path class="k" d="M 943.2,130.1 C 945.2,147.6 937.7,170.1 915.1,190.2 M 940.2,128.8 C 941.7,146.4 934.7,167.6 913.1,187.2"/>
<path class="k" d="M 915.1,190.2 L 930.1,182.6 L 950.2,190.2 L 930.1,200.2 Z M 930.1,200.2 L 930.1,205.2"/>
<path class="k" d="M 974.3,150.0 C 991.9,144.4 1006.3,156.4 1006.3,174.0 C 1005.5,193.2 988.7,212.3 963.2,225.0"/>
<path class="k" d="M 975.9,153.5 C 990.3,150.0 1002.3,159.6 1002.3,174.0 C 1001.5,191.6 985.5,209.1 960.0,221.9"/>
<path class="t" d="M 977.2,155.6 C 990.3,152.4 1000.3,161.2 1000.3,174.0 C 999.6,190.8 983.9,207.5 959.2,220.3"/>
<path class="k" d="M 977.9,158.0 C 991.9,158.0 999.1,164.4 998.0,180.4 C 994.3,194.8 979.1,209.1 958.4,218.7"/>
<path class="k" d="M 983.9,163.6 C 994.3,166.0 995.5,177.2 991.9,185.2 C 987.1,196.4 975.9,205.9 956.8,215.9"/>
<path class="t" d="M 982.3,166.0 C 991.9,168.4 993.2,177.2 990.0,184.4 C 985.5,194.8 975.1,204.0 956.4,213.6"/>
<path class="k" d="M 974.3,150.0 L 977.9,158.0 L 978.8,165.2 L 983.9,163.6 M 982.3,158.0 L 983.9,163.6 M 990.3,156.4 L 991.9,164.4 M 997.5,162.8 L 995.1,170.8 M 1001.5,167.6 L 999.1,171.6 L 1000.7,173.2"/>
<path class="k" d="M 975.9,190.0 L 973.6,193.2 L 975.9,194.8 M 982.3,186.8 L 979.9,191.6 M 969.6,144.4 L 972.8,154.0 L 955.2,144.4 Z"/>
<ellipse class="k" cx="958.4" cy="147.1" rx="2.56" ry="2.24"/>
<ellipse class="k" cx="963.2" cy="148.4" rx="2.24" ry="1.92"/>
<ellipse class="k" cx="967.6" cy="149.2" rx="1.92" ry="1.92"/>
<path class="k" d="M 950.2,180.1 C 952.7,170.1 965.2,163.9 973.9,167.6 C 980.2,170.1 981.4,176.4 977.7,182.6 C 982.7,187.7 981.4,195.2 975.2,200.2 C 967.7,203.9 957.7,200.2 952.7,192.7 C 950.2,187.7 949.2,183.9 950.2,180.1 Z"/>
<path class="k" d="M 930.1,205.2 C 940.2,200.2 950.2,202.7 957.7,212.7 M 940.2,215.2 L 962.7,205.2"/>
<path class="k" d="M 876.3,170.1 C 877.6,166.4 881.3,163.9 886.4,163.9 L 901.4,172.6 C 903.9,175.1 903.9,180.1 903.1,185.2 L 901.4,200.2 C 900.1,205.2 896.4,207.2 891.4,205.7 L 877.6,195.2 C 873.8,191.4 873.8,187.7 874.6,182.6 Z"/>
<path class="k" d="M 862.6,165.1 L 875.1,162.1 L 870.1,167.6 Z"/>
<path class="h" d="M 851.5,202.6 L 850.2,207.9 L 846.3,218.5 L 852.9,226.4 L 842.3,231.7 L 839.6,242.3 L 833.0,247.6 L 829.1,268.7 L 816.4,274.0 C 812.7,276.7 811.1,279.8 812.7,282.5 L 816.4,286.7 L 820.6,292.0 L 826.4,300.4 L 839.6,297.8 L 860.8,288.5 L 871.4,287.2 L 879.3,295.2 L 874.0,305.7 C 873.5,311.0 874.5,316.3 876.7,318.9 L 887.2,332.2 L 900.4,350.7 L 899.1,358.6 L 905.7,366.5 L 918.9,374.4 L 930.8,386.3 C 937.4,385.0 944.1,382.4 948.0,379.7 C 954.6,374.4 958.1,369.2 959.1,363.9 C 960.2,358.6 960.2,354.6 959.9,350.7 L 905.7,295.2 L 900.4,289.9 L 905.7,266.1 L 908.4,250.2 L 924.2,237.0 L 926.9,215.9 L 932.2,210.6 L 942.7,221.1"/>
<path class="k" d="M 892.5,247.6 L 887.2,268.7 L 884.6,287.2 L 881.9,303.1 C 881.9,309.7 884.1,313.7 887.2,317.6 L 905.7,342.7 L 924.2,369.2 L 929.5,381.1"/>
<path class="k" d="M 896.5,248.9 L 891.2,269.3 L 888.5,287.8 L 886.2,302.6 C 886.2,308.4 887.8,311.5 890.4,315.0 L 908.4,340.1 L 926.9,366.5 L 932.2,379.2"/>
<path class="k" d="M 904.4,266.1 L 899.1,289.9 M 907.0,296.5 C 904.4,305.7 900.4,311.0 895.2,313.7 M 948.0,358.6 C 955.9,354.6 958.6,352.0 959.6,351.2"/>
<path class="t" d="M 932.2,382.4 C 942.7,379.7 953.3,371.8 958.6,361.2"/>
<path class="k" d="M 876.7,318.9 L 891.2,316.3 M 887.2,332.2 L 899.9,329.5 M 900.4,350.7 L 911.0,346.7 M 905.7,366.5 L 916.3,358.6 M 918.9,374.4 L 925.6,369.2 M 905.7,355.9 L 911.0,361.2"/>
<ellipse class="k" cx="909.7" cy="360.7" rx="2.11" ry="2.11"/>
<ellipse class="k" cx="922.1" cy="378.4" rx="1.85" ry="1.85"/>
<path class="k" d="M 833.0,247.6 L 842.3,244.9 L 866.1,255.5 L 872.7,252.9 L 871.4,287.2 M 866.1,255.5 L 863.4,279.3 L 860.8,288.5 M 829.1,268.7 L 863.4,279.3 M 839.6,276.7 C 847.6,274.0 855.5,275.3 862.1,278.8 M 826.4,287.2 C 839.6,287.2 852.9,284.6 862.1,281.9 M 820.6,292.0 L 860.8,284.1"/>
<path class="k" d="M 869.3,252.9 L 869.3,284.6 M 872.7,252.9 L 876.7,250.2 L 879.3,287.2 M 879.3,256.8 L 887.2,252.9 L 892.5,247.6 M 876.7,268.7 L 885.9,266.1 M 878.0,279.3 L 884.6,278.0"/>
<path class="k" d="M 876.7,205.1 L 885.1,210.1 L 896.8,206.7 L 903.4,210.1 L 910.1,203.4 L 916.8,195.1 M 883.4,213.4 L 900.1,226.8 L 906.8,223.4 L 890.1,211.7 Z M 890.1,218.4 L 906.8,233.4 L 913.4,228.4 M 875.1,233.4 L 880.1,230.1 L 893.4,240.1 L 898.4,243.4 L 913.4,233.4 L 916.8,226.8 M 893.4,240.1 L 890.1,246.8 L 880.1,240.1"/>
<path class="h" d="M 920.1,213.4 L 925.1,210.1 L 936.8,211.7 L 948.5,218.4 L 958.5,220.1 M 920.1,213.4 L 921.0,233.4 L 910.1,243.4 L 903.4,260.0" style="stroke-width:2"/>
<path class="k" d="M 926.8,215.1 L 927.6,235.1 L 916.8,246.8 L 910.1,260.0 M 850.0,226.8 L 865.1,221.8 L 866.7,233.4 L 853.4,241.8 L 851.7,233.4 Z M 865.1,211.7 L 873.4,213.4 L 871.7,220.1 L 865.1,221.8 M 858.4,210.1 C 861.7,208.4 865.1,209.2 865.1,211.7 M 835.0,243.4 L 843.4,246.8 L 880.1,241.8 M 870.1,251.8 L 870.9,260.0 M 874.2,251.0 L 875.1,260.0 M 843.4,233.4 L 851.7,233.4 M 843.4,230.9 L 850.0,226.8"/>
<path class="k" d="M 876.7,214.2 L 881.7,218.4 L 878.4,223.4 L 873.4,220.1 Z M 881.7,218.4 L 888.4,223.4 L 893.4,233.4 M 900.1,226.8 L 900.9,240.1 M 906.8,233.4 L 903.4,240.1 M 910.1,203.4 L 911.8,213.4 L 916.8,218.4 L 920.1,213.4 M 911.8,213.4 L 906.8,216.8"/>
<path class="k" d="M 860.9,161.7 L 874.2,160.0 L 868.4,165.9 Z M 865.1,140.0 L 903.4,161.7 C 910.1,166.7 913.4,171.7 915.1,176.7 M 867.6,138.3 L 905.1,159.7 C 912.1,164.7 915.8,170.4 917.5,175.9"/>
<path class="k" d="M 873.4,195.1 L 868.4,206.7 M 858.4,190.1 L 860.1,195.1 L 865.1,198.4 M 855.1,218.4 C 858.4,220.1 861.7,218.4 863.4,215.1"/>
<ellipse class="k" cx="857.6" cy="219.8" rx="2.34" ry="2.00"/>
<ellipse class="w" cx="815.3" cy="281.4" rx="2.91" ry="3.44"/>
<ellipse class="k" cx="814.5" cy="281.7" rx="1.59" ry="1.85"/>
<path class="k" d="M 816.4,278.2 L 825.1,274.0 M 818.0,285.1 L 826.4,280.6 L 829.1,268.7"/>
<path class="k" d="M 926.9,215.9 C 928.2,222.5 924.2,231.7 920.3,235.7 M 932.2,210.6 L 924.2,209.3 L 920.3,215.9 L 917.6,235.7 L 904.4,247.6 L 901.8,263.4"/>
<path class="wh" d="M 942.7,221.1 C 942.7,226.4 948.0,231.2 958.6,233.0 C 969.2,234.4 978.4,231.2 981.1,226.4 L 982.4,218.5 L 963.9,225.1 L 948.0,219.8 Z"/>
<ellipse class="k" cx="958.6" cy="226.4" rx="2.38" ry="2.91"/>
</g>
<g id="strap797">
<path class="" d="M 620.7,198.2 C 620.7,195.6 621.8,194.1 623.3,192.5 C 625.4,190.4 628.5,188.9 631.7,188.3 L 646.2,187.8 C 651.5,188.3 655.6,189.6 658.8,190.9 L 669.2,196.7 L 681.7,204.0 L 727.5,221.1 L 723.3,233.6 L 677.5,215.4 C 673.3,214.6 669.2,214.4 665.0,214.4 C 659.8,215.9 654.6,216.5 650.4,216.5 C 644.2,215.9 637.9,213.9 633.8,212.3 C 628.5,209.7 625.4,207.1 623.3,205.0 C 621.8,202.9 620.7,200.3 620.7,198.2 Z M 630.6,194.6 C 633.8,194.1 637.9,194.6 641.0,195.6 L 654.6,201.9 L 667.6,209.4 C 664.0,210.2 659.8,210.2 656.7,209.7 L 646.2,207.6 C 642.1,205.5 638.4,203.8 635.8,201.9 C 632.7,199.8 630.6,197.2 630.6,194.6 Z" style="fill:url(#hat);fill-rule:evenodd;stroke:#000;stroke-width:2;stroke-linejoin:round"/>
<path class="wh" d="M 722.4,222.7 L 729.3,219.1 L 752.2,228.3 L 754.2,232.7 L 746.2,240.6 L 720.4,229.7 Z"/>
<path class="" d="M 724.4,226.3 L 730.3,222.7 L 748.2,230.3 L 742.3,235.7 Z" style="fill:url(#hat);stroke:#000;stroke-width:1"/>
<path class="wh" d="M 754.2,234.7 L 762.2,231.1 L 794.0,250.6 C 796.0,253.6 796.4,255.5 796.0,256.9 L 788.0,264.9 L 780.1,264.5 L 752.2,246.6 L 750.2,241.6 Z"/>
<path class="k" d="M 762.2,231.1 L 766.1,234.7 L 758.2,240.6 L 754.2,234.7 M 758.2,240.6 L 760.2,246.6 L 782.0,257.5 L 794.0,251.6 M 760.2,246.6 L 766.1,243.6 L 788.0,253.6 M 782.0,257.5 L 781.1,263.5 M 784.0,259.5 C 786.0,258.5 788.0,259.5 788.4,262.5"/>
<path class="" d="M 758.6,237.0 L 764.1,234.7 L 767.1,237.6 L 761.8,240.6 Z" style="fill:url(#hat);stroke:none"/>
</g>
<g id="p50">
<path class="wh" d="M 695.4,318.0 C 689.3,312.6 681.6,310.3 675.5,311.1 C 655.6,313.4 637.2,334.8 636.5,356.2 C 636.0,368.5 640.3,377.7 655.6,385.3 L 675.5,396.0 L 692.3,396.8 L 693.9,402.1 L 704.6,400.6 L 709.2,396.0 L 707.7,393.0 C 716.8,386.8 723.0,374.6 723.7,360.8 L 732.1,359.3 L 733.7,352.4 L 730.6,347.8 L 724.5,345.8 L 727.6,342.4 L 726.0,339.4 Z"/>
<path class="k" d="M 696.9,324.1 C 683.2,327.1 670.9,339.4 663.3,353.2 C 658.7,362.3 656.4,371.5 657.9,380.7 L 660.2,386.8 M 683.2,327.9 L 670.9,340.9 L 657.9,368.5 M 670.9,340.9 L 677.8,345.5 M 681.6,331.7 L 682.4,335.6 L 691.6,339.4 L 698.5,335.6 L 697.7,331.0 M 682.4,335.6 L 689.3,332.5 L 697.7,331.0 M 689.3,332.5 L 691.6,339.4 M 659.4,370.0 L 669.4,374.6 L 674.0,368.5 L 677.0,371.5 M 669.4,374.6 L 670.9,370.0 M 660.2,386.8 L 674.0,393.0 L 675.5,396.0 M 661.7,382.2 L 672.4,388.4"/>
<path class="k" d="M 710.7,334.8 L 716.8,337.1 L 723.0,342.4 L 719.9,345.5 M 698.5,324.8 L 704.6,327.9 L 710.7,334.8"/>
<ellipse class="w" cx="701.1" cy="364.6" rx="22.65" ry="30.92" transform="rotate(27 701.1 364.6)"/>
<ellipse class="k" cx="701.8" cy="365.1" rx="19.59" ry="27.86" transform="rotate(27 701.8 365.1)"/>
<ellipse class="k" cx="702.4" cy="365.4" rx="15.31" ry="22.65" transform="rotate(27 702.4 365.4)"/>
<ellipse class="k" cx="703.1" cy="365.7" rx="12.55" ry="18.98" transform="rotate(27 703.1 365.7)"/>
<ellipse class="k" cx="703.7" cy="366.3" rx="9.80" ry="15.31" transform="rotate(27 703.7 366.3)"/>
<ellipse class="t" cx="704.3" cy="366.9" rx="7.96" ry="12.86" transform="rotate(27 704.3 366.9)"/>
<path class="k" d="M 689.3,340.9 L 693.1,347.0 M 707.7,339.4 L 708.9,345.5 M 719.9,350.1 L 715.3,353.9 M 719.1,371.5 L 714.1,370.8 M 710.7,386.8 L 708.4,382.2 M 692.3,391.4 L 694.6,386.1 M 681.9,380.7 L 687.0,378.4 M 680.9,360.8 L 685.9,361.6"/>
<path class="k" d="M 682.4,385.3 C 683.2,389.9 686.2,393.0 690.8,393.0 L 692.3,386.8"/>
</g>
<g id="gb845">
<path class="wh" d="M 758.0,361.5 C 737.1,361.5 720.0,387.5 720.4,410.5 C 720.8,427.2 730.9,438.6 743.4,441.4 L 772.6,454.3 L 810.1,433.4 L 810.1,381.3 L 797.6,375.0 Z"/>
<path class="k" d="M 761.1,364.6 C 743.4,366.7 729.8,389.6 730.4,410.5 C 730.9,423.0 737.1,433.4 745.5,437.6 M 747.5,371.9 L 754.8,376.7 L 762.1,370.9 L 780.9,378.2 L 793.4,375.0 M 754.8,376.7 L 752.8,381.3 M 764.6,370.9 L 764.6,375.0 L 768.8,377.1 L 772.2,374.6 L 772.2,370.9 L 768.4,369.2 Z M 764.6,375.0 L 768.4,372.9 L 772.2,374.6 M 768.4,372.9 L 768.4,369.2"/>
<path class="k" d="M 780.9,378.2 L 785.1,381.3 L 778.8,393.8 L 767.4,386.5 L 759.0,400.1 L 762.1,402.1 M 778.8,393.8 L 780.9,395.9 L 799.7,381.3 M 782.0,377.1 L 789.3,375.0 L 797.6,378.2 L 792.4,382.3 Z M 793.4,375.0 L 801.8,372.9 L 808.0,381.3"/>
<path class="" d="M 783.0,377.5 L 790.3,375.4 L 796.6,378.2 L 791.8,381.3 Z" style="fill:#000"/>
<path class="k" d="M 744.4,394.8 L 748.6,393.8 L 747.5,400.1 M 737.1,404.2 C 739.2,402.1 743.4,403.2 744.4,407.4 L 745.5,433.4 M 741.3,406.3 L 742.3,435.5 M 735.0,410.5 L 736.1,431.3 L 744.4,440.7 M 727.7,422.0 L 730.9,420.9 L 732.9,425.1 L 729.2,426.1 Z M 749.6,410.5 L 758.0,400.1 M 750.7,413.6 L 760.1,403.2 M 751.7,416.7 L 761.1,406.3 M 748.6,412.6 L 750.7,433.4 L 754.8,432.4 M 759.0,400.1 L 754.8,432.4 M 754.8,432.4 L 764.2,437.6 L 772.6,426.1"/>
<path class="h" d="M 737.1,404.6 C 739.2,402.1 743.4,403.2 744.4,407.4 L 745.5,433.4 M 735.0,410.5 L 736.1,431.3 L 744.4,440.7 M 749.6,412.6 L 759.0,401.1 M 751.7,417.8 L 761.1,406.3" style="stroke-width:2"/>
<path class="wh" d="M 810.1,381.3 C 789.3,389.6 768.4,420.9 772.6,450.1 C 775.7,471.0 793.4,485.6 808.0,488.7 L 839.3,496.0 C 847.7,498.1 856.0,498.5 860.2,497.0 C 876.9,493.9 887.3,475.1 887.3,454.3 C 887.3,441.8 885.2,433.4 883.1,429.3 L 868.5,410.5 L 835.1,389.6 Z"/>
<path class="t" d="M 814.3,384.4 C 793.4,392.8 773.6,422.0 777.2,450.1 C 779.9,468.9 795.5,483.5 810.1,486.6"/>
<ellipse class="k" cx="858.5" cy="458.9" rx="27.53" ry="39.21" transform="rotate(18 858.5 458.9)"/>
<path class="k" d="M 820.5,392.8 L 826.8,389.6 L 853.9,405.3 L 845.6,408.4 Z" style="stroke-linejoin:round;stroke-width:1.9"/>
<path class="k" d="M 807.0,403.2 L 814.3,396.9 L 840.4,410.5 L 833.1,416.7 Z" style="stroke-linejoin:round;stroke-width:1.9"/>
<path class="k" d="M 794.5,414.7 L 801.8,406.3 L 827.2,420.5 L 820.5,430.3 Z" style="stroke-linejoin:round;stroke-width:1.9"/>
<path class="k" d="M 785.1,430.3 L 790.3,422.0 L 816.4,436.6 L 812.2,448.0 Z" style="stroke-linejoin:round;stroke-width:1.9"/>
<path class="k" d="M 780.9,447.0 L 784.0,439.7 L 808.4,454.3 L 807.0,464.7 Z" style="stroke-linejoin:round;stroke-width:1.9"/>
<path class="k" d="M 780.5,460.5 L 782.0,456.8 L 805.9,469.9 L 808.0,479.3 Z" style="stroke-linejoin:round;stroke-width:1.9"/>
<ellipse class="k" cx="857.0" cy="458.5" rx="14.18" ry="18.35" transform="rotate(18 857.0 458.5)"/>
<ellipse class="k" cx="857.7" cy="458.9" rx="11.47" ry="15.02" transform="rotate(18 857.7 458.9)"/>
<path class="" d="M 848.7,454.3 L 856.0,449.7 L 874.8,458.5 C 877.9,462.6 876.9,469.9 872.7,473.5 L 865.4,475.1 L 851.8,466.8 Z" style="fill:#222;stroke:#000;stroke-width:1.2"/>
<ellipse class="w" cx="870.2" cy="466.4" rx="5.84" ry="7.51" transform="rotate(18 870.2 466.4)"/>
<ellipse class="k" cx="870.2" cy="466.4" rx="3.75" ry="5.01" transform="rotate(18 870.2 466.4)"/>
<ellipse class="k" cx="870.2" cy="466.4" rx="1.88" ry="2.50" transform="rotate(18 870.2 466.4)"/>
<path class="" d="M 853.5,452.2 L 851.8,463.7 M 856.4,451.0 L 854.8,465.1 M 859.3,452.2 L 857.7,467.2 M 862.3,453.5 L 860.6,469.3 M 865.2,455.1 L 863.7,471.4" style="stroke:#fff;stroke-width:0.8;fill:none"/>
</g>
<g id="chuck25">
<path class="wh" d="M 913.8,451.7 C 901.2,449.9 881.3,471.6 876.8,495.1 C 875.5,509.5 883.1,517.7 901.2,527.6 L 933.7,535.8 C 951.8,538.1 966.2,531.2 970.8,516.8 C 973.5,507.7 966.2,491.5 955.4,478.8 C 944.5,466.2 926.5,455.3 913.8,451.7 Z"/>
<path class="h" d="M 930.1,459.8 C 940.9,466.2 951.8,475.2 959.0,486.0" style="stroke-width:2.6"/>
<ellipse class="k" cx="930.4" cy="475.2" rx="22.60" ry="5.79" transform="rotate(37 930.4 475.2)"/>
<ellipse class="k" cx="917.4" cy="487.5" rx="23.14" ry="6.51" transform="rotate(28 917.4 487.5)"/>
<ellipse class="k" cx="910.6" cy="504.5" rx="23.86" ry="5.97" transform="rotate(19 910.6 504.5)"/>
<ellipse class="k" cx="910.2" cy="521.5" rx="21.69" ry="3.07" transform="rotate(16 910.2 521.5)"/>
<ellipse class="w" cx="958.1" cy="518.6" rx="13.74" ry="17.72" transform="rotate(20 958.1 518.6)"/>
<ellipse class="k" cx="959.4" cy="518.9" rx="10.49" ry="13.74" transform="rotate(20 959.4 518.9)"/>
<ellipse class="k" cx="960.5" cy="519.3" rx="6.87" ry="9.04" transform="rotate(20 960.5 519.3)"/>
<ellipse class="k" cx="960.8" cy="519.5" rx="3.98" ry="5.06" transform="rotate(20 960.8 519.5)"/>
</g>
<g id="screw107">
<path class="ld" d="M 959.4,518.6 L 980.7,530.3"/>
<path class="" d="M 980.7,530.0 L 993.7,537.2" style="fill:none;stroke:#000;stroke-width:5;stroke-linecap:round"/>
<path class="" d="M 980.7,530.0 L 993.7,537.2" style="fill:none;stroke:#fff;stroke-width:1.2;stroke-dasharray:0.5 1.6"/>
<ellipse class="wh" cx="998.1" cy="539.4" rx="4.34" ry="6.87" transform="rotate(-28 998.1 539.4)"/>
<path class="k" d="M 995.5,536.7 L 1000.6,542.5 M 1000.2,536.3 L 995.9,542.5"/>
</g>
<g id="chg653">
<path class="wh" d="M 541.1,413.4 L 546.7,406.7 L 589.0,382.7 L 596.8,382.7 L 644.6,412.3 L 675.7,423.4 C 681.3,427.8 684.6,432.3 685.8,435.6 L 688.0,444.5 L 692.4,486.8 L 691.3,504.6 L 673.5,517.9 L 644.6,533.5 L 637.9,533.5 L 541.1,475.7 L 540.0,464.5 Z"/>
<path class="" d="M 559.6,404.9 L 591.5,386.6 L 598.2,388.8 L 566.3,407.1 Z" style="fill:url(#hat2);stroke:#000;stroke-width:1"/>
<path class="" d="M 571.6,409.8 L 600.8,393.0 L 607.5,395.2 L 578.3,412.0 Z" style="fill:url(#hat2);stroke:#000;stroke-width:1"/>
<path class="" d="M 583.6,414.7 L 610.1,399.5 L 616.8,401.7 L 590.3,416.9 Z" style="fill:url(#hat2);stroke:#000;stroke-width:1"/>
<path class="" d="M 595.6,419.6 L 619.4,405.9 L 626.1,408.1 L 602.3,421.8 Z" style="fill:url(#hat2);stroke:#000;stroke-width:1"/>
<path class="" d="M 607.6,424.5 L 628.7,412.4 L 635.4,414.6 L 614.3,426.7 Z" style="fill:url(#hat2);stroke:#000;stroke-width:1"/>
<path class="" d="M 619.6,429.4 L 638.0,418.8 L 644.7,421.1 L 626.3,431.6 Z" style="fill:url(#hat2);stroke:#000;stroke-width:1"/>
<path class="" d="M 631.6,434.3 L 647.3,425.3 L 654.0,427.5 L 638.3,436.5 Z" style="fill:url(#hat2);stroke:#000;stroke-width:1"/>
<path class="w" d="M 553.4,408.9 L 621.2,420.0 L 617.9,437.8 L 609.0,441.2 Z"/>
<path class="k" d="M 546.7,406.7 L 553.4,408.9 M 541.1,413.4 L 615.7,451.2 L 617.9,457.9 L 640.1,509.0 C 644.6,512.4 650.2,512.4 653.5,511.3 L 673.5,497.9 L 673.5,517.9 M 673.5,497.9 L 692.4,486.8"/>
<path class="" d="M 544.9,416.7 L 548.7,418.9 L 548.7,458.5 L 544.9,456.3 Z" style="fill:url(#hat2);stroke:#000;stroke-width:1.5"/>
<path class="" d="M 553.2,421.2 L 556.9,423.4 L 556.9,463.0 L 553.2,460.8 Z" style="fill:url(#hat2);stroke:#000;stroke-width:1.5"/>
<path class="" d="M 561.4,425.6 L 565.2,427.8 L 565.2,467.4 L 561.4,465.2 Z" style="fill:url(#hat2);stroke:#000;stroke-width:1.5"/>
<path class="" d="M 569.6,430.1 L 573.4,432.3 L 573.4,471.9 L 569.6,469.7 Z" style="fill:url(#hat2);stroke:#000;stroke-width:1.5"/>
<path class="" d="M 577.8,434.5 L 581.6,436.7 L 581.6,476.3 L 577.8,474.1 Z" style="fill:url(#hat2);stroke:#000;stroke-width:1.5"/>
<path class="" d="M 586.1,439.0 L 589.9,441.2 L 589.9,480.8 L 586.1,478.6 Z" style="fill:url(#hat2);stroke:#000;stroke-width:1.5"/>
<path class="w" d="M 620.2,435.6 C 620.2,430.5 625.3,427.0 632.2,426.6 L 644.1,427.0 L 662.8,430.5 C 671.4,431.3 678.2,434.7 678.2,439.8 C 677.3,445.8 671.4,448.8 664.5,448.8 L 632.2,444.5 C 624.5,443.2 620.2,439.8 620.2,435.6 Z"/>
<path class="h" d="M 616.8,449.4 L 644.1,455.3 C 650.9,456.9 657.7,457.7 662.8,457.0 C 669.7,456.0 676.5,453.5 681.6,449.2 C 685.0,446.2 687.6,442.4 688.8,438.1" style="stroke-width:3.2"/>
<path class="k" d="M 617.7,450.9 L 644.1,456.7 C 650.9,458.2 657.7,459.1 662.8,458.4 C 669.7,457.4 677.3,454.7 682.4,450.5"/>
<path class="k" d="M 642.8,427.5 L 642.8,445.4 M 645.8,427.5 L 645.8,446.2 M 647.5,427.0 L 647.5,446.2 M 654.3,428.9 L 654.3,447.5 M 656.0,429.3 L 656.0,447.5 M 660.3,430.1 L 660.3,448.4 M 662.0,430.5 L 662.0,448.5 M 663.7,430.9 L 663.7,448.8" style="stroke-width:1.9"/>
<path class="" d="M 649.2,442.4 L 650.9,439.8 L 656.9,440.7 L 656.0,446.2 L 650.1,445.1 Z" style="fill:#333;stroke:#000;stroke-width:1"/>
<path class="k" d="M 650.9,425.5 L 660.5,426.0 M 640.7,449.4 L 647.5,449.7 M 644.1,447.9 L 644.1,451.3"/>
<path class="k" d="M 682.0,443.7 C 682.4,441.5 684.6,440.3 686.3,441.1 L 685.0,444.9 Z" style="stroke-width:2.2"/>
<ellipse class="wh" cx="643.5" cy="504.6" rx="4.89" ry="4.89"/>
<ellipse class="k" cx="644.2" cy="505.0" rx="2.22" ry="2.22"/>
<path class="k" d="M 541.1,475.7 L 543.9,479.1 L 548.1,479.8 L 550.8,483.2 L 555.0,483.9 L 557.8,487.3 L 561.9,488.1 L 564.7,491.5 L 568.8,492.2 L 571.6,495.6 L 575.7,496.3 L 578.5,499.7 L 582.6,500.5 L 585.4,503.9 L 589.5,504.6 L 592.3,508.0 L 596.4,508.7 L 599.2,512.1 L 603.4,512.9 L 606.1,516.3 L 610.3,517.0 L 613.1,520.4 L 617.2,521.1 L 620.0,524.5 L 624.1,525.3 L 626.9,528.7 L 631.0,529.4 L 633.8,532.8 L 637.9,533.5"/>
<path class="k" d="M 673.5,510.2 L 691.8,497.9"/>
</g>
<g id="cable">
<path class="" d="M 471.0,574.0 C 465.1,588.2 479.3,602.4 507.7,607.1 C 540.8,611.9 578.6,602.4 584.5,581.1 C 586.9,571.7 581.0,562.2 573.9,557.5" style="fill:none;stroke:#000;stroke-width:5.3;stroke-linecap:butt"/>
<path class="" d="M 471.0,574.0 C 465.1,588.2 479.3,602.4 507.7,607.1 C 540.8,611.9 578.6,602.4 584.5,581.1 C 586.9,571.7 581.0,562.2 573.9,557.5" style="fill:none;stroke:#fff;stroke-width:1.5;stroke-linecap:butt"/>
<path class="" d="M 484.0,581.1 C 491.1,595.3 512.4,602.4 536.1,600.0 C 559.7,597.7 578.6,588.2 578.6,571.7 C 578.6,564.6 576.3,559.9 572.7,556.3" style="fill:none;stroke:#000;stroke-width:5.3;stroke-linecap:butt"/>
<path class="" d="M 484.0,581.1 C 491.1,595.3 512.4,602.4 536.1,600.0 C 559.7,597.7 578.6,588.2 578.6,571.7 C 578.6,564.6 576.3,559.9 572.7,556.3" style="fill:none;stroke:#fff;stroke-width:1.5;stroke-linecap:butt"/>
<path class="" d="M 498.2,537.4 C 479.3,543.3 472.2,555.1 474.6,566.9 C 478.1,581.1 503.0,590.6 531.3,589.4 C 559.7,587.0 581.0,574.0 578.6,557.5 C 576.3,543.3 555.0,535.0 526.6,535.0 C 507.7,535.0 498.2,537.4 498.2,537.4" style="fill:none;stroke:#000;stroke-width:5.3;stroke-linecap:butt"/>
<path class="" d="M 498.2,537.4 C 479.3,543.3 472.2,555.1 474.6,566.9 C 478.1,581.1 503.0,590.6 531.3,589.4 C 559.7,587.0 581.0,574.0 578.6,557.5 C 576.3,543.3 555.0,535.0 526.6,535.0 C 507.7,535.0 498.2,537.4 498.2,537.4" style="fill:none;stroke:#fff;stroke-width:1.5;stroke-linecap:butt"/>
<path class="" d="M 485.2,569.3 C 484.0,557.5 503.0,545.7 531.3,545.2 C 550.2,545.2 569.2,550.4 576.3,557.5" style="fill:none;stroke:#000;stroke-width:5.3;stroke-linecap:butt"/>
<path class="" d="M 485.2,569.3 C 484.0,557.5 503.0,545.7 531.3,545.2 C 550.2,545.2 569.2,550.4 576.3,557.5" style="fill:none;stroke:#fff;stroke-width:1.5;stroke-linecap:butt"/>
<path class="" d="M 534.9,468.8 C 521.9,479.5 525.4,498.4 518.3,517.3 C 513.6,529.1 505.3,535.0 493.5,539.0" style="fill:none;stroke:#000;stroke-width:5.3;stroke-linecap:butt"/>
<path class="" d="M 534.9,468.8 C 521.9,479.5 525.4,498.4 518.3,517.3 C 513.6,529.1 505.3,535.0 493.5,539.0" style="fill:none;stroke:#fff;stroke-width:1.5;stroke-linecap:butt"/>
<path class="" d="M 472.2,567.4 L 447.4,579.2" style="fill:none;stroke:#000;stroke-width:5.3;stroke-linecap:butt"/>
<path class="" d="M 472.2,567.4 L 447.4,579.2" style="fill:none;stroke:#fff;stroke-width:1.5;stroke-linecap:butt"/>
<path class="wh" d="M 408.4,591.1 L 415.5,586.3 L 434.4,583.5 L 445.7,578.3 L 449.0,585.9 L 439.6,599.6 L 436.3,608.3 L 427.3,610.0 L 410.3,595.8 Z"/>
<path class="k" d="M 415.5,586.3 L 430.8,602.4 L 436.3,608.3 M 434.4,583.5 L 439.6,599.6 M 428.5,588.2 L 436.7,585.4 L 437.9,589.4 L 430.8,591.8 Z"/>
<path class="" d="M 410.7,595.8 L 397.7,602.9" style="fill:none;stroke:#000;stroke-width:5.6;stroke-linecap:butt"/>
<path class="" d="M 410.7,595.8 L 397.7,602.9" style="fill:none;stroke:#fff;stroke-width:2.6;stroke-linecap:butt"/>
<path class="" d="M 427.3,606.0 L 413.1,612.3" style="fill:none;stroke:#000;stroke-width:5.6;stroke-linecap:butt"/>
<path class="" d="M 427.3,606.0 L 413.1,612.3" style="fill:none;stroke:#fff;stroke-width:2.6;stroke-linecap:butt"/>
<ellipse class="w" cx="398.0" cy="603.1" rx="1.89" ry="2.84" transform="rotate(-25 398.0 603.1)"/>
<ellipse class="w" cx="413.1" cy="612.3" rx="1.89" ry="2.84" transform="rotate(-25 413.1 612.3)"/>
</g>
<text class="lb" text-anchor="middle" x="240.3" y="119.0" textLength="24.5" lengthAdjust="spacingAndGlyphs">801</text>
<text class="lb" text-anchor="middle" x="312.5" y="102.0" textLength="16.3" lengthAdjust="spacingAndGlyphs">29</text>
<text class="lb" text-anchor="middle" x="409.0" y="86.5" textLength="16.3" lengthAdjust="spacingAndGlyphs">32</text>
<text class="lb" text-anchor="middle" x="431.6" y="178.6" textLength="8.2" lengthAdjust="spacingAndGlyphs">5</text>
<text class="lb" text-anchor="middle" x="102.4" y="203.2" textLength="8.2" lengthAdjust="spacingAndGlyphs">3</text>
<text class="lb" text-anchor="middle" x="146.2" y="232.3" textLength="24.5" lengthAdjust="spacingAndGlyphs">101</text>
<text class="lb" text-anchor="middle" x="205.6" y="295.2" textLength="16.3" lengthAdjust="spacingAndGlyphs">93</text>
<text class="lb" text-anchor="middle" x="83.7" y="420.7" textLength="24.5" lengthAdjust="spacingAndGlyphs">655</text>
<text class="lb" text-anchor="middle" x="360.5" y="603.0" textLength="16.3" lengthAdjust="spacingAndGlyphs">91</text>
<text class="lb" text-anchor="middle" x="505.7" y="453.0" textLength="24.5" lengthAdjust="spacingAndGlyphs">804</text>
<text class="lb" text-anchor="middle" x="610.0" y="227.5" textLength="24.5" lengthAdjust="spacingAndGlyphs">802</text>
<text class="lb" text-anchor="middle" x="642.5" y="279.6" textLength="24.5" lengthAdjust="spacingAndGlyphs">889</text>
<text class="lb" text-anchor="middle" x="908.3" y="72.0" textLength="24.5" lengthAdjust="spacingAndGlyphs">801</text>
<text class="lb" text-anchor="middle" x="711.5" y="98.8" textLength="8.2" lengthAdjust="spacingAndGlyphs">4</text>
<text class="lb" text-anchor="middle" x="739.0" y="205.1" textLength="24.5" lengthAdjust="spacingAndGlyphs">797</text>
<text class="lb" text-anchor="middle" x="694.7" y="305.4" textLength="16.3" lengthAdjust="spacingAndGlyphs">50</text>
<text class="lb" text-anchor="middle" x="764.9" y="304.2" textLength="24.5" lengthAdjust="spacingAndGlyphs">845</text>
<text class="lb" text-anchor="middle" x="915.8" y="434.6" textLength="16.3" lengthAdjust="spacingAndGlyphs">25</text>
<text class="lb" text-anchor="middle" x="995.2" y="515.3" textLength="24.5" lengthAdjust="spacingAndGlyphs">107</text>
<text class="lb" text-anchor="middle" x="663.5" y="556.0" textLength="24.5" lengthAdjust="spacingAndGlyphs">653</text>
<circle class="b" cx="1015.4" cy="508.8" r="4.6"/>
<circle class="b" cx="451.8" cy="256.3" r="9.9"/><text text-anchor="middle" x="451.8" y="260.9" style="font-weight:bold;font-size:13px;fill:#fff">A</text>
<circle class="b" cx="434.5" cy="292.1" r="9.9"/><text text-anchor="middle" x="434.5" y="296.7" style="font-weight:bold;font-size:13px;fill:#fff">B</text>
<circle class="b" cx="430.5" cy="353.2" r="9.9"/><text text-anchor="middle" x="430.5" y="357.8" style="font-weight:bold;font-size:13px;fill:#fff">A</text>
<circle class="b" cx="450.0" cy="365.9" r="9.9"/><text text-anchor="middle" x="450.0" y="370.5" style="font-weight:bold;font-size:13px;fill:#fff">B</text>
<path d="M414.5,251.3 L414.5,307.6 L462.1,334.6 L462.1,417" style="fill:none;stroke:#222;stroke-width:1"/>
<path class="ld" d="M238.8,120.6 L238.8,137.7 M311.9,102.4 L311.9,122.5 M408.5,88.4 L408.5,105.5 M431.6,181.2 L431.6,194.5 M102.4,205.0 L102.4,223.6 M146.4,211.5 L146.4,222.0 M168.0,192.6 L192.6,178.2 M283.5,160.4 L299.4,150.9 M327.0,183.1 L392.6,146.4 M200.9,238.0 L221.0,223.6 M209.6,264.0 L209.6,281.0 M264.5,353.1 L334.6,311.4 M363.0,255.8 L393.3,237.6 M907.9,75.2 L907.9,89.0 M718.8,93.7 L735.7,93.7 M738.9,208.0 L738.9,219.5 M791.3,260.8 L814.0,273.2 M915.4,437.7 L915.4,449.7 M994.3,518.7 L994.3,529.5 M663.1,527.4 L663.1,544.6 M764.9,306.0 L764.9,316.3 M610.2,230.0 L610.2,238.8 M99.8,415.6 L111.1,415.6 M335.8,598.3 L349.6,598.3 M473.2,448.3 L490.9,448.3 M431.2,363 L431.2,377.5 L428,379 M449.8,375.5 L449.8,388 L445,391"/>
<path class="k" style="stroke-width:2.2;stroke-linejoin:miter" d="M577.2,258.8 L577.2,221.3 L642.2,258.8 L642.2,272 M642.2,281.5 L642.2,321.6 L636.5,322 M694.2,294 L694.2,276.4 L834.4,356.8 L834.4,389 M694.2,307 L694.2,318"/>
</svg>
</body></html>
